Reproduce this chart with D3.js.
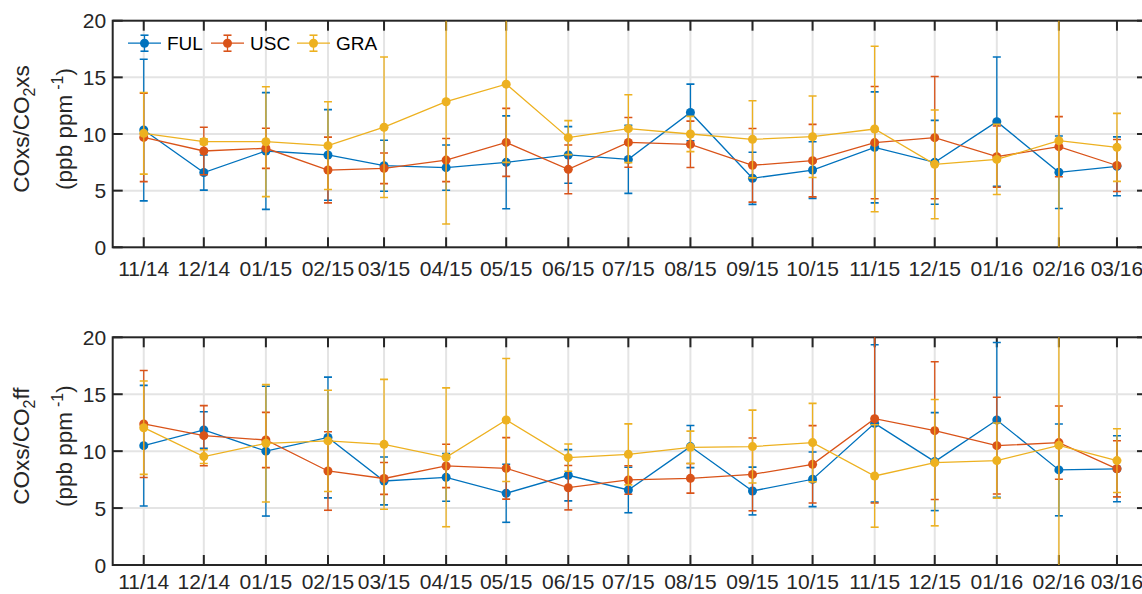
<!DOCTYPE html>
<html>
<head>
<meta charset="utf-8">
<script src="https://cdn.jsdelivr.net/npm/d3@7"></script>
<style>
  html, body { margin: 0; padding: 0; background: #fff; }
  svg { display: block; font-family: "Liberation Sans", Arial, Helvetica, sans-serif; }
</style>
</head>
<body>
<div id="chart"></div>
<script>
// month labels (also used to place the points in time)
const months = ['11/14', '12/14', '01/15', '02/15', '03/15', '04/15', '05/15', '06/15', '07/15',
  '08/15', '09/15', '10/15', '11/15', '12/15', '01/16', '02/16', '03/16']

// COxs/CO2xs (top)
const fulXs = [10.35, 6.6, 8.5, 8.15, 7.2, 7.03, 7.5, 8.15, 7.76, 11.9, 6.09, 6.82, 8.82, 7.5, 11.09, 6.62, 7.15]
const fulXsErr = [6.25, 1.55, 5.15, 4.0, 2.25, 2.0, 4.1, 2.5, 3.0, 2.5, 2.3, 2.5, 4.9, 3.7, 5.7, 3.2, 2.6]
const uscXs = [9.7, 8.5, 8.74, 6.82, 6.97, 7.7, 9.26, 6.88, 9.26, 9.09, 7.24, 7.65, 9.24, 9.68, 8.0, 8.88, 7.22]
const uscXsErr = [3.9, 2.1, 1.77, 2.9, 1.35, 1.9, 3.0, 2.15, 2.2, 2.05, 3.25, 3.2, 4.95, 5.4, 2.7, 2.65, 2.3]
const graXs = [10.06, 9.32, 9.32, 8.97, 10.6, 12.85, 14.4, 9.68, 10.47, 10.0, 9.53, 9.76, 10.44, 7.32, 7.76, 9.41, 8.82]
const graXsErr = [3.6, 0.25, 4.85, 3.87, 6.2, 10.8, 6.9, 1.5, 3.0, 1.56, 3.4, 3.6, 7.3, 4.8, 3.1, 12, 3.0]

// COxs/CO2ff (bottom)
const fulFf = [10.48, 11.86, 10.0, 11.2, 7.38, 7.7, 6.3, 7.88, 6.59, 10.4, 6.5, 7.53, 12.44, 9.08, 12.74, 8.35, 8.45]
const fulFfErr = [5.3, 1.6, 5.7, 5.3, 2.1, 2.1, 2.55, 2.25, 2.0, 1.85, 2.1, 2.4, 6.9, 4.3, 6.8, 4.03, 2.9]
const uscFf = [12.39, 11.36, 10.98, 8.26, 7.6, 8.7, 8.49, 6.79, 7.47, 7.61, 7.96, 8.84, 12.85, 11.8, 10.48, 10.75, 8.45]
const uscFfErr = [4.7, 2.64, 2.43, 3.45, 1.4, 1.9, 2.7, 1.95, 1.25, 1.3, 3.2, 3.4, 7.4, 6.05, 4.25, 3.22, 2.47]
const graFf = [12.06, 9.52, 10.69, 10.9, 10.6, 9.46, 12.74, 9.43, 9.72, 10.34, 10.4, 10.75, 7.82, 8.99, 9.17, 10.51, 9.17]
const graFfErr = [4.1, 0.6, 5.15, 4.45, 5.7, 6.1, 5.4, 1.2, 2.68, 1.42, 3.2, 3.45, 4.5, 5.55, 3.3, 11, 2.8]

const seriesNames = ['FUL', 'USC', 'GRA']
const seriesColors = ['#0072BD', '#D95319', '#EDB120']
const yTicks = [0, 5, 10, 15, 20]

const W = 1142, H = 594
const parseMonth = d3.utcParse('%m/%y')
const dates = months.map(parseMonth)

const svg = d3.select('#chart').append('svg').attr('width', W).attr('height', H)

// shared time axis: axis box runs from mid-Oct 2014 to mid-Mar 2016
const x = d3.scaleUtc()
  .domain([new Date(Date.UTC(2014, 9, 16, 12)), new Date(Date.UTC(2016, 2, 16))])
  .range([112.7, 1147])

const axisColor = '#262626'
const gridColor = '#e4e4e4'

function drawPanel(top, bottom, values, errs, labelMain, labelSub, labelTail, legend, id, labelY) {
  const y = d3.scaleLinear().domain([0, 20]).range([bottom, top])
  const g = svg.append('g')
  const [x0, x1] = x.range()

  g.append('clipPath').attr('id', id)
    .append('rect').attr('x', x0).attr('y', top).attr('width', x1 - x0).attr('height', bottom - top)

  // grid
  g.append('g').selectAll('line').data(dates).join('line')
    .attr('x1', d => x(d)).attr('x2', d => x(d))
    .attr('y1', top).attr('y2', bottom)
    .attr('stroke', gridColor).attr('stroke-width', 2)
  g.append('g').selectAll('line').data(yTicks.slice(1, -1)).join('line')
    .attr('x1', x0).attr('x2', x1)
    .attr('y1', d => y(d)).attr('y2', d => y(d))
    .attr('stroke', gridColor).attr('stroke-width', 2)

  // ticks (inward, all four sides)
  const tl = 10
  const xt = g.append('g').attr('stroke', axisColor).attr('stroke-width', 2)
  xt.selectAll('line.b').data(dates).join('line').attr('class', 'b')
    .attr('x1', d => x(d)).attr('x2', d => x(d)).attr('y1', bottom).attr('y2', bottom - tl)
  xt.selectAll('line.t').data(dates).join('line').attr('class', 't')
    .attr('x1', d => x(d)).attr('x2', d => x(d)).attr('y1', top).attr('y2', top + tl)
  xt.selectAll('line.l').data(yTicks).join('line').attr('class', 'l')
    .attr('x1', x0).attr('x2', x0 + tl).attr('y1', d => y(d)).attr('y2', d => y(d))
  xt.selectAll('line.r').data(yTicks).join('line').attr('class', 'r')
    .attr('x1', x1).attr('x2', x1 - tl).attr('y1', d => y(d)).attr('y2', d => y(d))

  // box
  g.append('rect').attr('x', x0).attr('y', top).attr('width', x1 - x0).attr('height', bottom - top)
    .attr('fill', 'none').attr('stroke', axisColor).attr('stroke-width', 2)

  // tick labels
  g.append('g').selectAll('text').data(dates).join('text')
    .attr('x', d => x(d)).attr('y', labelY)
    .attr('text-anchor', 'middle').attr('font-size', 21).attr('fill', axisColor)
    .text((d, i) => months[i])
  g.append('g').selectAll('text').data(yTicks).join('text')
    .attr('x', x0 - 6.5).attr('y', d => y(d)).attr('dy', '0.36em')
    .attr('text-anchor', 'end').attr('font-size', 21).attr('fill', axisColor)
    .text(d => d)

  // y label, two lines
  const cy = (top + bottom) / 2 - 5
  const l1 = g.append('text').attr('transform', `translate(28.5,${cy}) rotate(-90)`)
    .attr('text-anchor', 'middle').attr('font-size', 22.5).attr('fill', axisColor)
  l1.append('tspan').text(labelMain)
  l1.append('tspan').attr('font-size', 16).attr('dy', 6).text(labelSub)
  l1.append('tspan').attr('dy', -6).text(labelTail)
  const l2 = g.append('text').attr('transform', `translate(72,${cy}) rotate(-90)`)
    .attr('text-anchor', 'middle').attr('font-size', 22.5).attr('fill', axisColor)
  l2.append('tspan').text('(ppb ppm')
  l2.append('tspan').attr('font-size', 16).attr('dx', 5).attr('dy', -9).text('-1')
  l2.append('tspan').attr('dy', 9).text(')')

  // data series
  const plot = g.append('g').attr('clip-path', `url(#${id})`)
  const line = d3.line().x(d => x(d.date)).y(d => y(d.v))
  values.forEach((vals, s) => {
    const pts = vals.map((v, i) => ({ date: dates[i], v, e: errs[s][i] }))
    const col = seriesColors[s]
    const sg = plot.append('g')
    sg.append('path').datum(pts).attr('d', line)
      .attr('fill', 'none').attr('stroke', col).attr('stroke-width', 1.3)
    const eb = sg.append('g').attr('stroke', col).attr('stroke-width', 1.3)
    eb.selectAll('line.v').data(pts).join('line').attr('class', 'v')
      .attr('x1', d => x(d.date)).attr('x2', d => x(d.date))
      .attr('y1', d => y(d.v - d.e)).attr('y2', d => y(d.v + d.e))
    eb.selectAll('line.cu').data(pts).join('line').attr('class', 'cu')
      .attr('x1', d => x(d.date) - 4).attr('x2', d => x(d.date) + 4)
      .attr('y1', d => y(d.v + d.e)).attr('y2', d => y(d.v + d.e)).attr('stroke-width', 1.6)
    eb.selectAll('line.cd').data(pts).join('line').attr('class', 'cd')
      .attr('x1', d => x(d.date) - 4).attr('x2', d => x(d.date) + 4)
      .attr('y1', d => y(d.v - d.e)).attr('y2', d => y(d.v - d.e)).attr('stroke-width', 1.6)
    sg.selectAll('circle').data(pts).join('circle')
      .attr('cx', d => x(d.date)).attr('cy', d => y(d.v)).attr('r', 4.5)
      .attr('fill', col)
  })

  if (legend) {
    const ly = top + 22.5
    const starts = [128, 211, 297]
    seriesNames.forEach((name, s) => {
      const lg = svg.append('g').attr('transform', `translate(${starts[s]},${ly})`)
      const col = seriesColors[s]
      lg.append('line').attr('x1', 0).attr('x2', 33).attr('stroke', col).attr('stroke-width', 1.3)
      lg.append('line').attr('x1', 16.5).attr('x2', 16.5).attr('y1', -8).attr('y2', 8)
        .attr('stroke', col).attr('stroke-width', 1.3)
      ;[-8, 8].forEach(dy => lg.append('line').attr('x1', 12.5).attr('x2', 20.5)
        .attr('y1', dy).attr('y2', dy).attr('stroke', col).attr('stroke-width', 1.6))
      lg.append('circle').attr('cx', 16.5).attr('r', 4.5).attr('fill', col)
      lg.append('text').attr('x', 39).attr('dy', '0.36em').attr('font-size', 19)
        .attr('fill', '#000').text(name)
    })
  }
}

drawPanel(20.7, 247.3, [fulXs, uscXs, graXs], [fulXsErr, uscXsErr, graXsErr],
  'COxs/CO', '2', 'xs', true, 'clipTop', 276)
drawPanel(337.3, 565, [fulFf, uscFf, graFf], [fulFfErr, uscFfErr, graFfErr],
  'COxs/CO', '2', 'ff', false, 'clipBottom', 589)
</script>
</body>
</html>
